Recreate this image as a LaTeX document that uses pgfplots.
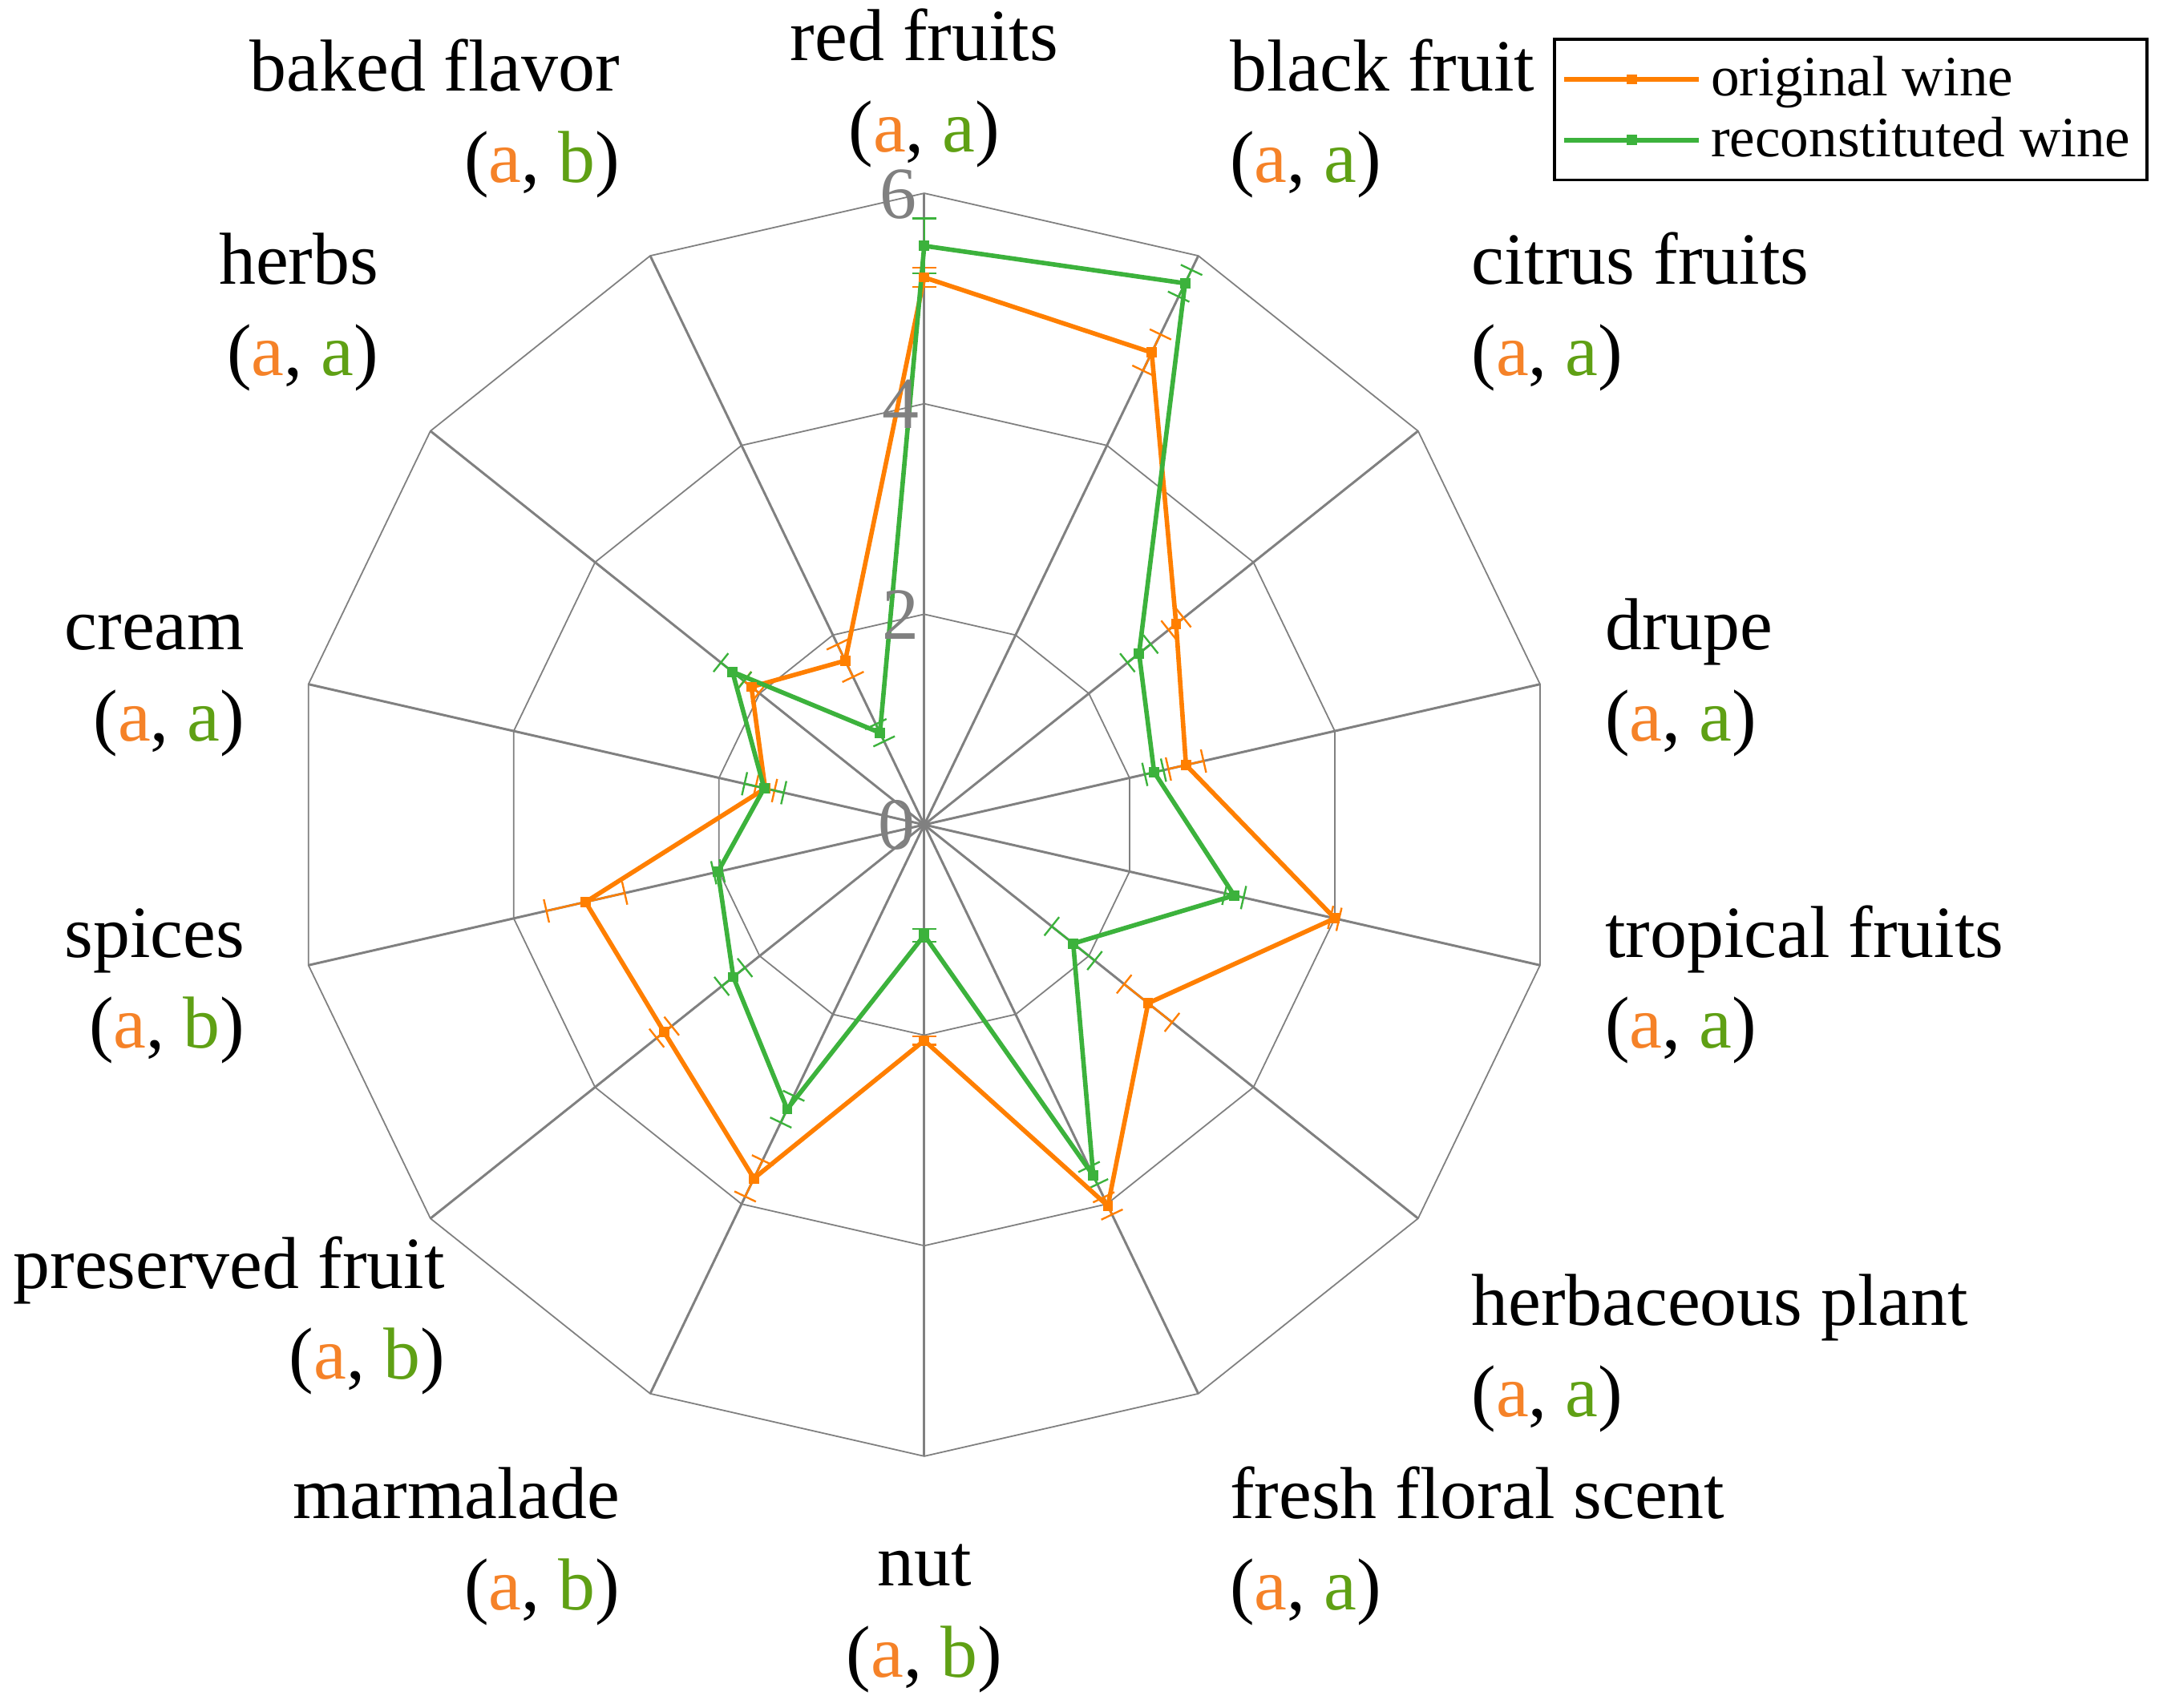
\documentclass[border=0pt]{standalone}
\usepackage{fontspec}
\setmainfont{Liberation Serif}
\usepackage{pgfplots}
\pgfplotsset{compat=1.18}
\usepackage{pgfplotstable}
\usetikzlibrary{arrows.meta}
\definecolor{orline}{RGB}{255,127,0}
\definecolor{grline}{RGB}{60,178,60}
\definecolor{ortext}{RGB}{245,130,40}
\definecolor{grtext}{RGB}{95,160,20}
\definecolor{gridgray}{RGB}{128,128,128}

% angle (deg, clockwise from top), original wine +- err, reconstituted wine +- err
\pgfplotstableread{
ang       orig  origerr  rec   recerr
90        5.20  0.10     5.50  0.27
64.2857   4.98  0.20     5.71  0.15
38.5714   3.06  0.10     2.61  0.15
12.8571   2.55  0.18     2.24  0.10
-12.8571  4.00  0.05     3.02  0.10
-38.5714  2.72  0.30     1.81  0.27
-64.2857  4.02  0.10     3.70  0.10
-90       2.05  0.05     1.05  0.07
-115.7143 3.73  0.20     3.00  0.15
-141.4286 3.16  0.10     2.32  0.15
-167.1429 3.30  0.39     2.01  0.05
-192.8571 1.55  0.10     1.56  0.20
-218.5714 2.10  0.10     2.33  0.15
-244.2857 1.73  0.18     0.97  0.10
-270      5.20  0.10     5.50  0.27
}\flavour

\pgfplotsset{
  ring/.style={gridgray, line width=0.3pt, forget plot},
  errb/.style={line width=0.4pt, forget plot,
    quiver={every arrow/.append style={{Bar[width=5pt]}-{Bar[width=5pt]}}}},
}
\newcommand{\ab}[2]{(\textcolor{ortext}{#1}, \textcolor{grtext}{#2})}
\newcommand{\lab}[5]{%
  \node[anchor=base #1] at (#2,#3) {#4};
  \node[anchor=base #1] at (#2,#3+66) {#5};}

\begin{document}
\begin{tikzpicture}
\begin{axis}[
  scale only axis, width=9.348cm, height=9.348cm,
  xmin=-6, xmax=6, ymin=-6, ymax=6, hide axis, clip=false,
  legend style={at={(1.469,1.123)}, anchor=north east, draw=black,
    line width=0.6pt, font=\fontsize{12}{13.5}\selectfont,
    inner sep=1.5pt, row sep=-1pt, cells={anchor=west}},
  legend image code/.code={\draw[mark repeat=2,mark phase=2,#1]
    plot coordinates {(0cm,0cm)(0.5cm,0cm)(1cm,0cm)};},
]
% spokes
\addplot[gridgray, line width=0.5pt, forget plot,
  quiver={u={6*cos(\thisrow{ang})}, v={6*sin(\thisrow{ang})}}]
  table[x expr=0, y expr=0] {\flavour};
% rings at 2, 4, 6
\addplot[ring] table[x expr={2*cos(\thisrow{ang})}, y expr={2*sin(\thisrow{ang})}] {\flavour};
\addplot[ring] table[x expr={4*cos(\thisrow{ang})}, y expr={4*sin(\thisrow{ang})}] {\flavour};
\addplot[ring] table[x expr={6*cos(\thisrow{ang})}, y expr={6*sin(\thisrow{ang})}] {\flavour};

% error bars (radial)
\addplot[orline, errb,
  quiver={u={2*\thisrow{origerr}*cos(\thisrow{ang})}, v={2*\thisrow{origerr}*sin(\thisrow{ang})}}]
  table[x expr={(\thisrow{orig}-\thisrow{origerr})*cos(\thisrow{ang})},
        y expr={(\thisrow{orig}-\thisrow{origerr})*sin(\thisrow{ang})}] {\flavour};
\addplot[grline, errb,
  quiver={u={2*\thisrow{recerr}*cos(\thisrow{ang})}, v={2*\thisrow{recerr}*sin(\thisrow{ang})}}]
  table[x expr={(\thisrow{rec}-\thisrow{recerr})*cos(\thisrow{ang})},
        y expr={(\thisrow{rec}-\thisrow{recerr})*sin(\thisrow{ang})}] {\flavour};

\addplot[orline, line width=0.95pt, mark=square*, mark size=0.6pt]
  table[x expr={\thisrow{orig}*cos(\thisrow{ang})}, y expr={\thisrow{orig}*sin(\thisrow{ang})}] {\flavour};
\addlegendentry{original wine}
\addplot[grline, line width=0.95pt, mark=square*, mark size=0.6pt]
  table[x expr={\thisrow{rec}*cos(\thisrow{ang})}, y expr={\thisrow{rec}*sin(\thisrow{ang})}] {\flavour};
\addlegendentry{reconstituted wine}

\coordinate (c) at (axis cs:0,0);
\end{axis}

\begin{scope}[shift={(c)}, x=0.010204cm, y=-0.010204cm]
\begin{scope}[shift={(-670,-598)}, inner sep=0pt,
  every node/.append style={font=\fontsize{15.5}{18}\selectfont}]
\path[use as bounding box] (0,0) rectangle (1568,1238);
% radial tick labels
\node[text=gridgray] at (651,141) {6};
\node[text=gridgray] at (653,293) {4};
\node[text=gridgray] at (653,446) {2};
\node[text=gridgray] at (650,598) {0};
% category labels
\lab{}{670}{44}{red fruits}{\ab{a}{a}}
\lab{west}{891}{66}{black fruit}{\ab{a}{a}}
\lab{west}{1066}{206}{citrus fruits}{\ab{a}{a}}
\lab{west}{1163}{471}{drupe}{\ab{a}{a}}
\lab{west}{1163}{694}{tropical fruits}{\ab{a}{a}}
\lab{west}{1066}{961}{herbaceous plant}{\ab{a}{a}}
\lab{west}{891}{1101}{fresh floral scent}{\ab{a}{a}}
\lab{}{670}{1150}{nut}{\ab{a}{b}}
\lab{east}{450}{1101}{marmalade}{\ab{a}{b}}
\lab{east}{323}{934}{preserved fruit}{\ab{a}{b}}
\lab{east}{178}{694}{spices}{\ab{a}{b}}
\lab{east}{178}{471}{cream}{\ab{a}{a}}
\lab{east}{275}{206}{herbs}{\ab{a}{a}}
\lab{east}{450}{66}{baked flavor}{\ab{a}{b}}
\end{scope}
\end{scope}
\end{tikzpicture}
\end{document}
